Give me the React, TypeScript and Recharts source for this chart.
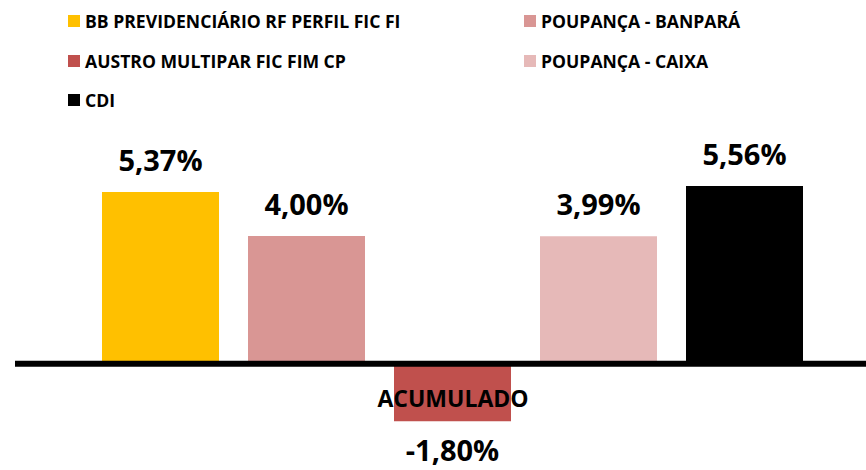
import React from 'react';
import { BarChart, Bar, XAxis, YAxis, ReferenceLine, LabelList, Legend } from 'recharts';

const categories = ['ACUMULADO'];
const seriesNames = [
  'BB PREVIDENCIÁRIO RF PERFIL FIC FI',
  'POUPANÇA - BANPARÁ',
  'AUSTRO MULTIPAR FIC FIM CP',
  'POUPANÇA - CAIXA',
  'CDI',
];
const seriesKeys = ['bb', 'banpara', 'austro', 'caixa', 'cdi'];
const seriesValues = [5.37, 4.0, -1.8, 3.99, 5.56];
const seriesColors = ['#FFC000', '#D99694', '#C0504D', '#E6B9B8', '#000000'];
const legendOrder = [0, 1, 2, 3, 4];

const data = categories.map((name) => {
  const row: any = { name };
  seriesKeys.forEach((k, i) => (row[k] = seriesValues[i]));
  return row;
});

const FONT = '"Open Sans", "Noto Sans", sans-serif';

const fmt = (v: number) => v.toFixed(2).replace('.', ',') + '%';

const ValueLabel = (props: any) => {
  const { x, y, width, height, value } = props;
  const cx = x + width / 2;
  const neg = value < 0;
  const top = Math.min(y, y + height);
  const bottom = Math.max(y, y + height);
  const ty = neg ? bottom + 40 : top - 21;
  return (
    <text x={cx} y={ty} textAnchor="middle" fontFamily={FONT} fontWeight={700} fontSize={29} fill="#000">
      {fmt(value)}
    </text>
  );
};

const LegendContent = () => {
  const cols = [68, 524];
  return (
    <div style={{ position: 'relative', width: 866, height: 120, fontFamily: FONT }}>
      {legendOrder.map((idx, i) => {
        const col = i % 2;
        const row = Math.floor(i / 2);
        return (
          <div
            key={idx}
            style={{
              position: 'absolute',
              left: cols[col],
              top: 21 + row * 39.5 - 12,
              height: 24,
              display: 'flex',
              alignItems: 'center',
              fontWeight: 700,
              fontSize: 17.6,
              color: '#000',
              whiteSpace: 'nowrap',
            }}
          >
            <span style={{ display: 'inline-block', width: 12, height: 12, background: seriesColors[idx], marginRight: 5 }} />
            {seriesNames[idx]}
          </div>
        );
      })}
    </div>
  );
};

export default function App() {
  return (
    <div style={{ position: 'fixed', top: 0, left: 0, width: 866, height: 470, overflow: 'hidden', background: '#fff' }}>
      <BarChart
        width={900}
        height={470}
        data={data}
        margin={{ top: 20, right: 9, bottom: 4, left: 15 }}
        barCategoryGap={87}
        barGap={29}
      >
        <Legend verticalAlign="top" height={120} wrapperStyle={{ top: 0, left: 0 }} content={<LegendContent />} />
        <XAxis dataKey="name" hide />
        <YAxis hide domain={[-3.2, 7]} />
        {seriesKeys.map((k, i) => (
          <Bar key={k} dataKey={k} name={seriesNames[i]} fill={seriesColors[i]} isAnimationActive={false}>
            <LabelList dataKey={k} content={<ValueLabel />} />
          </Bar>
        ))}
        <ReferenceLine
          y={0}
          stroke="#000"
          strokeWidth={6}
          label={(p: any) => {
            const vb = p.viewBox;
            return (
              <text
                x={vb.x + vb.width / 2}
                y={vb.y + 43}
                textAnchor="middle"
                fontFamily={FONT}
                fontWeight={700}
                fontSize={23}
                fill="#000"
              >
                {categories[0]}
              </text>
            );
          }}
        />
      </BarChart>
    </div>
  );
}
